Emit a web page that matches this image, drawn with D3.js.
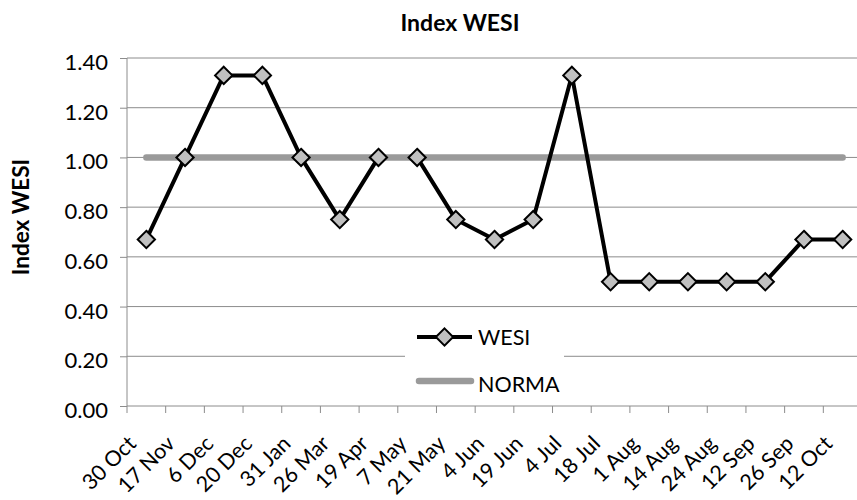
<!DOCTYPE html>
<html>
<head>
<meta charset="utf-8">
<script src="https://cdn.jsdelivr.net/npm/d3@7"></script>
<style>
  html, body { margin: 0; padding: 0; background: #fff; }
  svg { display: block; font-family: Lato, "Open Sans", sans-serif; }
</style>
</head>
<body>
<svg id="chart" width="857" height="500"></svg>
<script>
// Survey dates (categories)
const categories = ["30 Oct","17 Nov","6 Dec","20 Dec","31 Jan","26 Mar","19 Apr","7 May","21 May","4 Jun","19 Jun","4 Jul","18 Jul","1 Aug","14 Aug","24 Aug","12 Sep","26 Sep","12 Oct"];
// Index WESI per date
const wesi = [0.67,1.00,1.33,1.33,1.00,0.75,1.00,1.00,0.75,0.67,0.75,1.33,0.50,0.50,0.50,0.50,0.50,0.67,0.67];
// Reference level (NORMA)
const norma = [1,1,1,1,1,1,1,1,1,1,1,1,1,1,1,1,1,1,1];
// The WESI line is not connected across these dates
const breakAfter = ["19 Apr"];
// Y axis ticks
const yTicks = [0,0.2,0.4,0.6,0.8,1.0,1.2,1.4];

const svg = d3.select("#chart");
const plot = { left: 127, right: 862, top: 58, bottom: 406 };

const x = d3.scaleBand().domain(categories).range([plot.left, plot.right]);
const y = d3.scaleLinear().domain([0, 1.4]).range([plot.bottom, plot.top]);
const cx = c => x(c) + x.bandwidth() / 2;

// Horizontal gridlines
svg.append("g")
  .selectAll("line")
  .data(yTicks.filter(t => t > 0))
  .join("line")
  .attr("x1", plot.left).attr("x2", plot.right)
  .attr("y1", d => y(d)).attr("y2", d => y(d))
  .attr("stroke", "#8c8c8c").attr("stroke-width", 1);

// Y axis
const yAxis = svg.append("g")
  .attr("transform", `translate(${plot.left},0)`)
  .call(d3.axisLeft(y).tickValues(yTicks).tickFormat(d3.format(".2f")).tickSize(7).tickPadding(12));
yAxis.select(".domain").attr("stroke", "#8c8c8c").attr("d", `M0,${plot.top}V${plot.bottom}`);
yAxis.selectAll(".tick line").attr("stroke", "#8c8c8c");
yAxis.selectAll(".tick text")
  .attr("font-size", 22).attr("fill", "#000")
  .attr("font-family", "Lato, sans-serif")
  .attr("dy", "0.52em");

// X axis: ticks on category boundaries
const xAxisG = svg.append("g").attr("transform", `translate(0,${plot.bottom})`);
xAxisG.append("line")
  .attr("x1", plot.left).attr("x2", plot.right)
  .attr("stroke", "#8c8c8c");
const boundaries = categories.map(c => x(c)).concat([x(categories[categories.length - 1]) + x.bandwidth()]);
xAxisG.selectAll("line.tk")
  .data(boundaries)
  .join("line").attr("class", "tk")
  .attr("x1", d => d).attr("x2", d => d)
  .attr("y1", 0).attr("y2", 7)
  .attr("stroke", "#8c8c8c");
xAxisG.selectAll("text")
  .data(categories)
  .join("text")
  .attr("transform", d => `translate(${cx(d) - 9},39) rotate(-45)`)
  .attr("text-anchor", "end")
  .attr("font-size", 21.5)
  .attr("fill", "#000")
  .text(d => d);

// NORMA line
svg.append("path")
  .datum(norma)
  .attr("fill", "none")
  .attr("stroke", "#9a9a9a")
  .attr("stroke-width", 6.5)
  .attr("stroke-linecap", "round")
  .attr("d", d3.line().x((d, i) => cx(categories[i])).y(d => y(d)));

// WESI line, split into connected runs
const runs = [];
let current = [];
categories.forEach((c, i) => {
  current.push({ c, v: wesi[i] });
  if (breakAfter.includes(c)) { runs.push(current); current = []; }
});
if (current.length) runs.push(current);

svg.append("g").selectAll("path")
  .data(runs)
  .join("path")
  .attr("fill", "none")
  .attr("stroke", "#000")
  .attr("stroke-width", 4)
  .attr("stroke-linejoin", "round")
  .attr("d", d3.line().x(d => cx(d.c)).y(d => y(d.v)));

// Diamond markers
const diamond = d3.symbol().type(d3.symbolDiamond2).size(190);
svg.append("g").selectAll("path")
  .data(categories.map((c, i) => ({ c, v: wesi[i] })))
  .join("path")
  .attr("d", diamond)
  .attr("transform", d => `translate(${cx(d.c)},${y(d.v)})`)
  .attr("fill", "#c0c0c0")
  .attr("stroke", "#000")
  .attr("stroke-width", 2);

// Legend
const legend = svg.append("g");
legend.append("rect")
  .attr("x", 405).attr("y", 314).attr("width", 159).attr("height", 86)
  .attr("fill", "#fff");
legend.append("line")
  .attr("x1", 417).attr("x2", 472).attr("y1", 337).attr("y2", 337)
  .attr("stroke", "#000").attr("stroke-width", 4);
legend.append("path")
  .attr("d", diamond)
  .attr("transform", "translate(444.5,337)")
  .attr("fill", "#c0c0c0").attr("stroke", "#000").attr("stroke-width", 2);
legend.append("text")
  .attr("x", 478).attr("y", 345)
  .attr("font-size", 21.5).attr("fill", "#000")
  .text("WESI");
legend.append("line")
  .attr("x1", 419).attr("x2", 471).attr("y1", 381).attr("y2", 381)
  .attr("stroke", "#9a9a9a").attr("stroke-width", 6.5).attr("stroke-linecap", "round");
legend.append("text")
  .attr("x", 478).attr("y", 392)
  .attr("font-size", 21.5).attr("fill", "#000")
  .text("NORMA");

// Chart title
svg.append("text")
  .attr("x", 460).attr("y", 31)
  .attr("text-anchor", "middle")
  .attr("font-size", 23).attr("font-weight", "bold")
  .text("Index WESI");

// Y axis title
svg.append("text")
  .attr("transform", "translate(29,217) rotate(-90)")
  .attr("text-anchor", "middle")
  .attr("font-size", 22.5).attr("font-weight", "bold")
  .text("Index WESI");
</script>
</body>
</html>
